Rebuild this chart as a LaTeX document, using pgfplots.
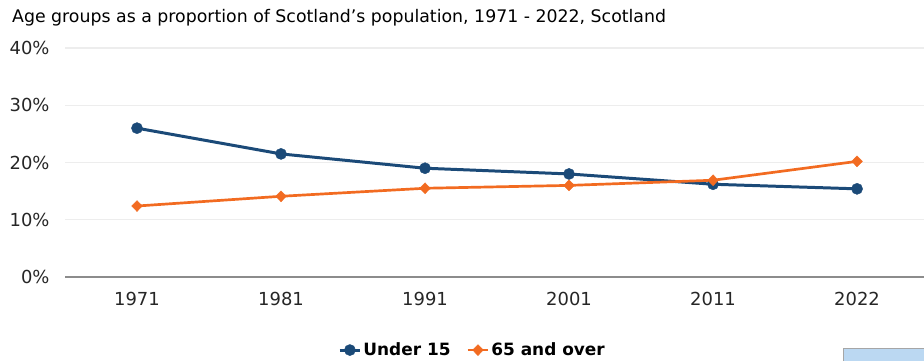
\documentclass[border=0pt]{standalone}
\usepackage{fontspec}
\setmainfont{DejaVu Sans}
\usepackage{pgfplots}
\pgfplotsset{compat=1.18}
\definecolor{ublue}{HTML}{1B4A78}
\definecolor{oorange}{HTML}{F26B21}
\definecolor{gridgray}{HTML}{EDEDED}
\definecolor{axgray}{HTML}{8C8C8C}
\definecolor{boxblue}{HTML}{BBD8F2}
\begin{document}
\begin{tikzpicture}[x=1bp,y=1bp]
\useasboundingbox (0,0) rectangle (924,360);
\begin{scope}
\clip (0,0) rectangle (924,360);
\node[anchor=west, inner sep=0pt, font=\fontsize{17.4}{17.4}\selectfont] at (12,342) {Age groups as a proportion of Scotland's population, 1971 - 2022, Scotland};
\begin{axis}[
  at={(65bp,83bp)}, anchor=south west,
  scale only axis, width=859bp, height=229bp,
  xmin=-0.5, xmax=5.465, ymin=0, ymax=40,
  xtick={0,1,2,3,4,5},
  xticklabels={1971,1981,1991,2001,2011,2022},
  ytick={0,10,20,30,40},
  yticklabel={\pgfmathprintnumber{\tick}\%},
  /pgf/number format/assume math mode=true,
  axis x line*=bottom, axis y line*=left,
  y axis line style={draw=none},
  x axis line style={axgray, line width=1.3pt, -},
  major tick length=0pt,
  ymajorgrids, grid style={gridgray, line width=1.3pt},
  tick label style={font=\fontsize{18}{18}\selectfont, text=black!85},
  yticklabel style={xshift=-12bp},
  xticklabel style={yshift=-12bp},
  clip=false,
  legend style={at={(0.4745,-0.319)}, anchor=center, legend columns=2, draw=none, fill=none,
    font=\bfseries\fontsize{17}{17}\selectfont, /tikz/every even column/.append style={column sep=14bp}},
  legend image code/.code={\draw[#1] (0bp,0bp) -- (20bp,0bp); \draw[#1, mark repeat=2, mark phase=2] plot coordinates {(0bp,0bp) (10bp,0bp) (20bp,0bp)};},
]
\addplot[ublue, line width=3pt, mark=*, mark size=5.6pt, mark options={solid, line width=0.4pt}] coordinates {
  (0,26.0) (1,21.5) (2,19.0) (3,18.0) (4,16.2) (5,15.4)};
\addlegendentry{Under 15}
\addplot[oorange, line width=2.7pt, mark=diamond*, mark size=5.5pt, mark options={solid, line width=0.4pt, xscale=1.3}] coordinates {
  (0,12.4) (1,14.1) (2,15.5) (3,16.0) (4,16.9) (5,20.2)};
\addlegendentry{65 and over}
\end{axis}
\draw[fill=boxblue, draw=gray!70, line width=0.6pt] (843,-2) rectangle (930,12);
\end{scope}
\end{tikzpicture}
\end{document}
